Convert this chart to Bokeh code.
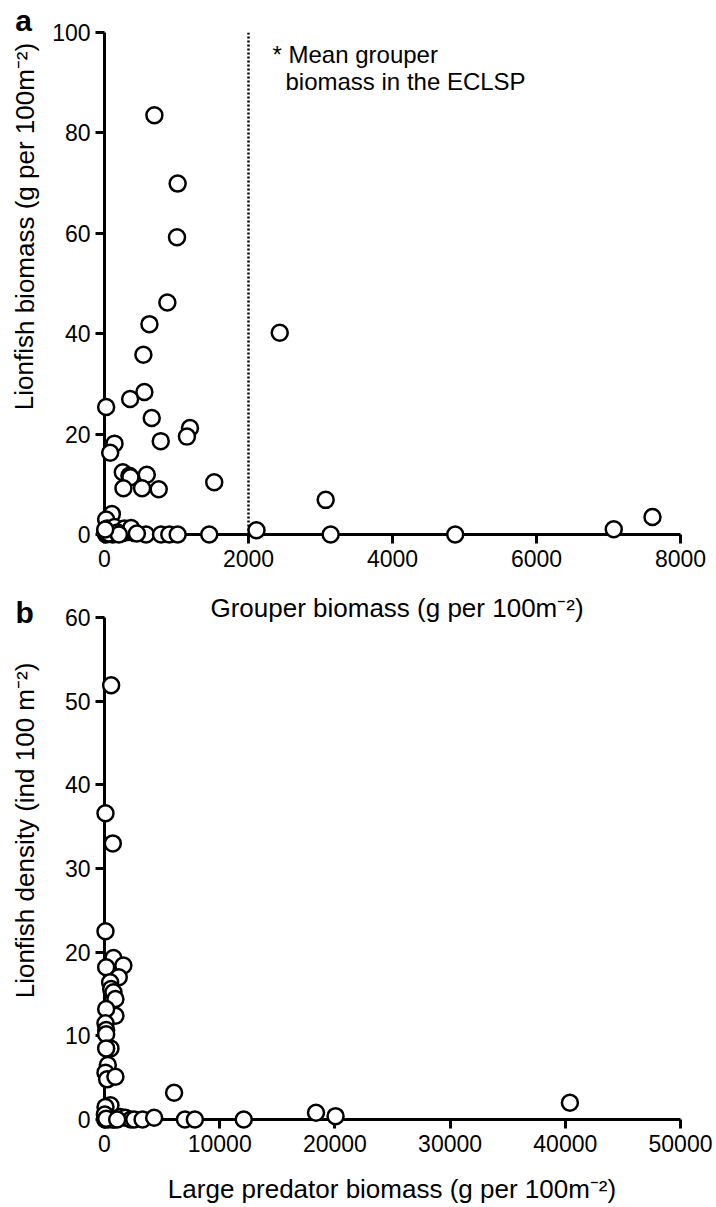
from bokeh.plotting import figure
from bokeh.layouts import column
from bokeh.models import Range1d, FixedTicker
from bokeh.core.properties import value
from bokeh.embed import file_html
from bokeh.resources import INLINE

# ---------------- data ----------------
# panel a: grouper biomass vs lionfish biomass
grouper_biomass = [693, 1016, 1007, 873, 624, 2434, 540, 554, 356, 23, 656, 1187, 1145,
                   781, 139, 79, 254, 346, 360, 587, 263, 522, 753, 1524, 3072, 102, 23,
                   37, 2111, 3141, 4871, 7073, 7611,
                   23, 115, 254, 323, 393, 416, 577, 785, 900, 1016, 1455, 139, 277, 370,
                   10, 60, 180, 200, 450, 10]
lionfish_biomass = [83.5, 69.9, 59.2, 46.2, 41.9, 40.2, 35.8, 28.4, 27.0, 25.4, 23.2, 21.2, 19.5,
                    18.6, 18.1, 16.3, 12.4, 11.7, 11.4, 11.9, 9.2, 9.2, 9.0, 10.4, 6.9, 4.1, 3.0,
                    1.2, 0.85, 0.0, 0.0, 1.05, 3.5,
                    0.0, 0.0, 0.3, 0.5, 0.6, 0.3, 0.0, 0.0, 0.0, 0.0, 0.0, 1.5, 1.2, 1.3,
                    0.5, 0.2, 0.4, 0.0, 0.2, 1.0]
mean_grouper_eclsp = 2000
a_xticks = [0, 2000, 4000, 6000, 8000]
a_yticks = [0, 20, 40, 60, 80, 100]

# panel b: large predator biomass vs lionfish density
predator_biomass = [575, 86, 718, 86, 776, 1638, 144, 1236, 489, 575, 776, 948, 948, 144,
                    86, 144, 144, 517, 144, 287, 86, 230, 948, 6040, 517, 86, 40400, 18360,
                    20058, 12086, 57, 862, 1379, 1810, 2299, 2586, 3305, 4310, 6983, 7845,
                    100, 300, 500, 700, 30, 150, 1100]
lionfish_density = [51.9, 36.6, 33.0, 22.5, 19.3, 18.4, 18.2, 17.0, 16.4, 15.6, 15.2, 14.4, 12.4, 13.2,
                    11.5, 10.7, 10.2, 8.5, 8.5, 6.5, 5.6, 4.8, 5.1, 3.2, 1.7, 1.5, 2.0, 0.8,
                    0.4, 0.0, 0.0, 0.0, 0.3, 0.2, 0.0, 0.0, 0.0, 0.2, 0.0, 0.0,
                    0.3, 0.0, 0.2, 0.0, 0.6, 0.1, 0.0]
b_xticks = [0, 10000, 20000, 30000, 40000, 50000]
b_yticks = [0, 10, 20, 30, 40, 50, 60]

FONT = "Liberation Sans"
TICK_SIZE = "23px"
TITLE_SIZE = "26px"
NOTE_SIZE = "24px"
SUP = "\u207b\u00b2"
SPLIT = 585  # page y where panel b's canvas starts


class Mapper:
    """page pixel -> data for a figure frame (axis origin and axis end in page px)."""
    def __init__(self, x0px, x1px, x1val, y0px, y1px, y1val):
        self.x0px, self.kx = x0px, (x1px - x0px) / x1val
        self.y0px, self.ky = y0px, (y0px - y1px) / y1val

    def x(self, px):
        return (px - self.x0px) / self.kx

    def y(self, py):
        return (self.y0px - py) / self.ky


def make_fig(fig_top, fig_bottom, left, right, top, bottom, xr, yr):
    p = figure(width=716, height=fig_bottom - fig_top,
               x_range=Range1d(*xr), y_range=Range1d(*yr),
               min_border_left=left, min_border_right=716 - right,
               min_border_top=top - fig_top, min_border_bottom=fig_bottom - bottom,
               output_backend="svg", toolbar_location=None, tools="")
    p.outline_line_color = None
    p.xgrid.visible = False
    p.ygrid.visible = False
    p.background_fill_color = "white"
    p.border_fill_color = "white"
    for ax in list(p.xaxis) + list(p.yaxis):
        ax.axis_line_width = 3
        ax.axis_line_color = "black"
        ax.major_tick_line_width = 3
        ax.major_tick_line_color = "black"
        ax.major_tick_in = 0
        ax.major_tick_out = 9
        ax.minor_tick_line_color = None
        ax.major_label_text_font = FONT
        ax.major_label_text_font_size = TICK_SIZE
        ax.major_label_text_color = "black"
    p.xaxis.major_label_standoff = 6
    p.yaxis.major_label_standoff = 5
    return p


def add_text(p, x, y, text, size, angle=0.0, align="center", style="normal"):
    p.text(x=[x], y=[y], text=[text], angle=angle, text_align=align,
           text_baseline="middle", text_font=value(FONT), text_font_size=value(size),
           text_color="black", text_font_style=style, level="overlay")


# ---------------- panel a ----------------
ma = Mapper(104, 680, a_xticks[-1], 534, 32, a_yticks[-1])
pa = make_fig(0, SPLIT, 104, 680, 32, 534,
              (a_xticks[0], a_xticks[-1]), (a_yticks[0], a_yticks[-1]))
pa.xaxis.ticker = FixedTicker(ticks=a_xticks)
pa.yaxis.ticker = FixedTicker(ticks=a_yticks)
pa.line(x=[mean_grouper_eclsp, mean_grouper_eclsp], y=[0, a_yticks[-1]],
        line_color="black", line_width=2.5, line_dash="2 2")
pa.scatter(x=grouper_biomass, y=lionfish_biomass, marker="circle", size=16,
           fill_color="white", line_color="black", line_width=2.5, level="overlay")
add_text(pa, ma.x(23), ma.y(20), "a", "30px", style="bold")
add_text(pa, ma.x(24), ma.y(226), "Lionfish biomass (g per 100m" + SUP + ")", TITLE_SIZE,
         angle=1.5707963)
add_text(pa, ma.x(272), ma.y(54), "* Mean grouper", NOTE_SIZE, align="left")
add_text(pa, ma.x(285), ma.y(81), "biomass in the ECLSP", NOTE_SIZE, align="left")

# ---------------- panel b ----------------
mb = Mapper(104, 681, b_xticks[-1], 1119 - SPLIT, 617 - SPLIT, b_yticks[-1])
pb = make_fig(SPLIT, 1205, 104, 681, 617, 1119,
              (b_xticks[0], b_xticks[-1]), (b_yticks[0], b_yticks[-1]))
pb.xaxis.ticker = FixedTicker(ticks=b_xticks)
pb.yaxis.ticker = FixedTicker(ticks=b_yticks)
pb.scatter(x=predator_biomass, y=lionfish_density, marker="circle", size=16,
           fill_color="white", line_color="black", line_width=2.5, level="overlay")
add_text(pb, mb.x(397), mb.y(607 - SPLIT), "Grouper biomass (g per 100m" + SUP + ")", TITLE_SIZE)
add_text(pb, mb.x(24), mb.y(612 - SPLIT), "b", "30px", style="bold")
add_text(pb, mb.x(24), mb.y(830 - SPLIT), "Lionfish density (ind 100 m" + SUP + ")", TITLE_SIZE,
         angle=1.5707963)
add_text(pb, mb.x(392), mb.y(1188 - SPLIT), "Large predator biomass (g per 100m" + SUP + ")",
         TITLE_SIZE)

layout = column(pa, pb, spacing=0)
open("out.html", "w").write(file_html(layout, INLINE))
